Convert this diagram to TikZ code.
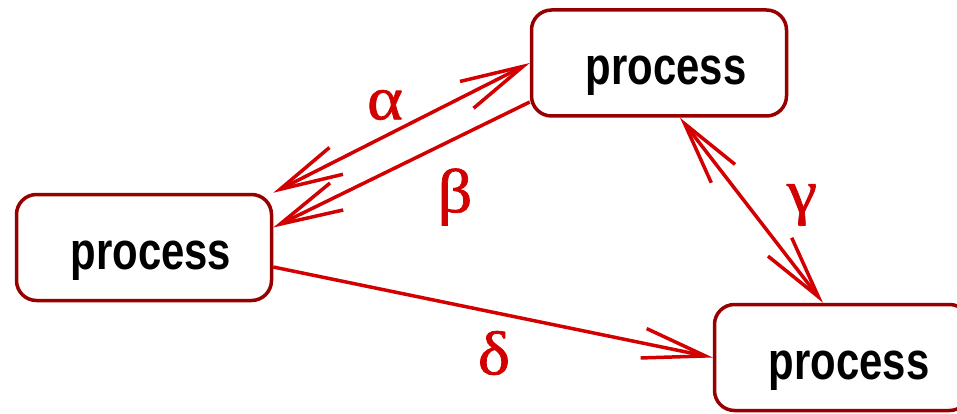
\documentclass[tikz,border=0pt]{standalone}
\usepackage{fontspec}
\usetikzlibrary{arrows.meta}
\newfontfamily\procfont{Liberation Sans}[FakeStretch=0.79]
\newfontfamily\greekfont{Liberation Serif}[FakeBold=1.2, FakeStretch=1.1]
\definecolor{boxred}{RGB}{150,0,0}
\definecolor{arrowred}{RGB}{210,0,0}

\begin{document}
\begin{tikzpicture}[x=1pt, y=-1pt, >={Straight Barb[length=63pt, width=30pt]},
    proc/.style={draw=boxred, line width=3.5pt, rounded corners=20pt, fill=white,
        minimum width=255pt, minimum height=106pt, text height=43pt, text depth=0pt,
        font=\procfont\bfseries\fontsize{53}{60}\selectfont,
        execute at begin node=\hspace*{14pt}},
    link/.style={draw=arrowred, line width=3.5pt},
    greek/.style={text=arrowred, font=\greekfont\fontsize{62}{70}\selectfont}]
    \useasboundingbox (0, 0) rectangle (957, 414);
    \node[proc] (0) at (144, 247.5) {process};
    \node[proc] (1) at (659, 63) {process};
    \node[proc] (2) at (842, 357.5) {process};
    \draw[link, <->] (0.north east) -- (1.west);
    \draw[link, ->] ([yshift=-39pt]1.west) -- ([yshift=20pt]0.east);
    \draw[link, <->] ([xshift=21pt]1.south) -- ([xshift=-19pt]2.north);
    \draw[link, ->] ([yshift=-19.5pt]0.east) -- (2.west);
    \node[greek] (alpha) at (385, 105) {α};
    \node[greek] (beta) at (455, 197) {β};
    \node[greek] (gamma) at (802, 205) {γ};
    \node[greek] (delta) at (494, 353) {δ};
\end{tikzpicture}
\end{document}
